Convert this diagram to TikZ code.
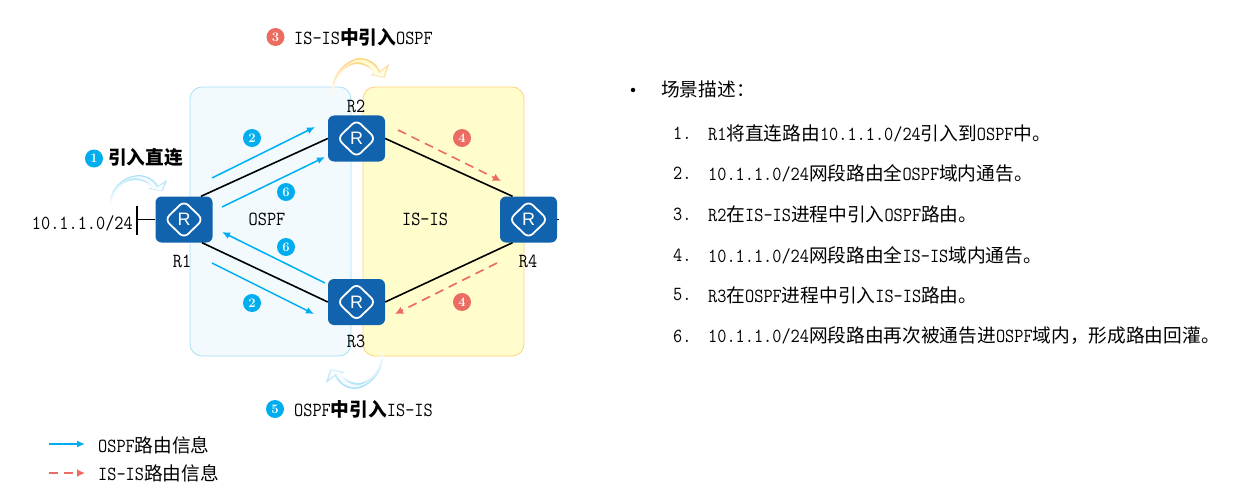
\documentclass[tikz,border=0pt]{standalone}
\usepackage{fontspec}
\newfontfamily\cjk[Scale=0.935]{Noto Sans CJK SC}
\newfontfamily\latin[FakeStretch=0.89]{Latin Modern Mono}
\newfontfamily\routerfont{Liberation Sans}
\definecolor{rtblue}{HTML}{1063AC}
\definecolor{osblue}{HTML}{00AEEF}
\definecolor{isred}{HTML}{EB6D62}
\definecolor{osfill}{HTML}{F2FAFE}
\definecolor{osedge}{HTML}{A8E0F8}
\definecolor{isfill}{HTML}{FFFDCC}
\definecolor{isedge}{HTML}{FFD27F}
\usetikzlibrary{arrows.meta}
\newcommand{\txtfont}{\latin\fontsize{20}{22}\selectfont}
\newcommand{\zh}[1]{{\cjk #1}}
\newcommand{\zhb}[1]{{\cjk\bfseries #1}}
\tikzset{
    area/.style 2 args={
        draw=#2, fill=#1, rounded corners=12pt, line width=0.8pt,
        minimum width=161pt, minimum height=269pt
    },
    router/.style={
        fill=rtblue, rounded corners=6pt, minimum width=57pt, minimum height=46pt,
        text=white, font=\routerfont\fontsize{18}{18}\selectfont,
        path picture={
            \draw[white, line width=1.8pt, line join=miter]
                ([xshift=-19pt]path picture bounding box.center)
                -- ([yshift=18.5pt]path picture bounding box.center)
                -- ([xshift=19pt]path picture bounding box.center)
                -- ([yshift=-18.5pt]path picture bounding box.center) -- cycle;
        }
    },
    link/.style={draw=black, line width=1.6pt},
    osarrow/.style={-{Latex[length=8pt,width=7pt]}, draw=osblue, line width=1.5pt},
    isarrow/.style={-{Latex[length=8pt,width=8pt]}, draw=isred, line width=1.6pt,
        dash pattern=on 9pt off 6pt},
    badge/.style={
        circle, fill=#1, minimum size=18pt, text=white,
        font=\rmfamily\bfseries\fontsize{13}{13}\selectfont
    },
    badge/.default=osblue,
    pics/swoosh/.style n args={3}{
        code={
            \shade[bottom color=white, middle color=#1, top color=#1, shading angle=#3]
                (0,0) .. controls (-3,-22) and (14,-38) .. (28,-39)
                .. controls (38,-39) and (46,-32) .. (48,-26)
                -- (57,-33) -- (53,-19) -- (38,-22) -- (42,-24)
                .. controls (38,-31) and (30,-33) .. (24,-33)
                .. controls (12,-32) and (3,-20) .. (0,0) -- cycle;
            \shade[bottom color=white, middle color=#2, top color=#2, shading angle=#3]
                (1.5,-8) .. controls (3,-22) and (15,-36.5) .. (28,-37.5)
                .. controls (37,-37.5) and (44,-31) .. (47,-23.5)
                -- (54.5,-29.5) -- (51.5,-20.5) -- (42,-22.5)
                .. controls (39,-33) and (30,-35) .. (24,-35)
                .. controls (14,-34) and (5,-22) .. (1.5,-8) -- cycle;
        }
    }
}
\begin{document}
\begin{tikzpicture}[x=1pt, y=-1pt, every node/.style={inner sep=0pt, font=\txtfont}]
    \useasboundingbox (0,0) rectangle (1236,500);
    % areas
    \node[area={osfill}{osedge}] (ospfarea) at (270.5,221.5) {};
    \node[area={isfill}{isedge}] (isisarea) at (443.5,221.5) {};
    \node (ospflabel) at (267,219) {OSPF};
    \node (isislabel) at (425,219) {IS-IS};
    % routers
    \node[router] (R1) at (184,219.5) {R};
    \node[router] (R2) at (356.5,138.5) {R};
    \node[router] (R3) at (356.5,302) {R};
    \node[router] (R4) at (528.5,219.5) {R};
    \node (R1label) at (182,261) {R1};
    \node (R2label) at (356,106) {R2};
    \node (R3label) at (356,341) {R3};
    \node (R4label) at (528,261) {R4};
    % links
    \coordinate (stub1) at (137,219.5);
    \coordinate (bar1a) at (137,206);
    \coordinate (bar1b) at (137,235);
    \coordinate (stub4) at (559,219.5);
    \draw[link] ([xshift=17pt]R1.north) -- (R2.west);
    \draw[link] ([xshift=18pt]R1.south) -- (R3.west);
    \draw[link] (R2.east) -- ([xshift=-16pt]R4.north);
    \draw[link] (R3.east) -- ([xshift=-16pt]R4.south);
    \draw[link] (R1) -- (stub1);
    \draw[link] (bar1a) -- (bar1b);
    \draw[link] (R4) -- (stub4);
    \node[anchor=east] (net) at (133,223) {10.1.1.0/24};
    % route arrows
    \coordinate (osa1) at (212,178);
    \coordinate (osa2) at (315,127);
    \coordinate (osb1) at (222,207);
    \coordinate (osb2) at (325,157);
    \coordinate (osc1) at (325,283);
    \coordinate (osc2) at (222,232);
    \coordinate (osd1) at (212,263);
    \coordinate (osd2) at (314,314);
    \coordinate (isa1) at (398,130);
    \coordinate (isa2) at (501,181);
    \coordinate (isb1) at (497,263);
    \coordinate (isb2) at (395,314);
    \draw[osarrow] (osa1) -- (osa2);
    \draw[osarrow] (osb1) -- (osb2);
    \draw[osarrow] (osc1) -- (osc2);
    \draw[osarrow] (osd1) -- (osd2);
    \draw[isarrow] (isa1) -- (isa2);
    \draw[isarrow] (isb1) -- (isb2);
    % badges
    \node[badge] (b1) at (94,158.5) {1};
    \node[badge] (b2a) at (252,138) {2};
    \node[badge] (b2b) at (252,303) {2};
    \node[badge=isred] (b3) at (275.5,37) {3};
    \node[badge=isred] (b4a) at (462,138) {4};
    \node[badge=isred] (b4b) at (462,302) {4};
    \node[badge] (b5) at (275,409) {5};
    \node[badge] (b6a) at (286,192) {6};
    \node[badge] (b6b) at (286,247) {6};
    \node[anchor=west] (step1) at (108,157) {\zhb{引入直连}};
    \node[anchor=west] (step3) at (294,37) {IS-IS\zhb{中引入}OSPF};
    \node[anchor=west] (step5) at (294,409.5) {OSPF\zhb{中引入}IS-IS};
    % swooshes
    \pic[yscale=.82] at (110,207) {swoosh={osedge}{osfill}{0}};
    \pic at (332,97) {swoosh={isedge}{isfill}{0}};
    \pic[rotate=180] at (383,350) {swoosh={osedge}{osfill}{180}};
    % legend
    \coordinate (lega1) at (49,444);
    \coordinate (lega2) at (85,444);
    \coordinate (legb1) at (49,473);
    \coordinate (legb2) at (85,473);
    \draw[osarrow] (lega1) -- (lega2);
    \draw[isarrow] (legb1) -- (legb2);
    \node[anchor=west] (lega) at (98,445) {OSPF\zh{路由信息}};
    \node[anchor=west] (legb) at (98,473) {IS-IS\zh{路由信息}};
    % description
    \node[circle, fill=black, minimum size=4.5pt] (dot) at (633,90) {};
    \node[anchor=west] (head) at (661,89) {\zh{场景描述：}};
    \node[anchor=west] (n1) at (673,133) {1.};
    \node[anchor=west] (t1) at (708,133) {R1\zh{将直连路由}10.1.1.0/24\zh{引入到}OSPF\zh{中。}};
    \node[anchor=west] (n2) at (673,173) {2.};
    \node[anchor=west] (t2) at (708,173) {10.1.1.0/24\zh{网段路由全}OSPF\zh{域内通告。}};
    \node[anchor=west] (n3) at (673,214) {3.};
    \node[anchor=west] (t3) at (708,214) {R2\zh{在}IS-IS\zh{进程中引入}OSPF\zh{路由。}};
    \node[anchor=west] (n4) at (673,255) {4.};
    \node[anchor=west] (t4) at (708,255) {10.1.1.0/24\zh{网段路由全}IS-IS\zh{域内通告。}};
    \node[anchor=west] (n5) at (673,295) {5.};
    \node[anchor=west] (t5) at (708,295) {R3\zh{在}OSPF\zh{进程中引入}IS-IS\zh{路由。}};
    \node[anchor=west] (n6) at (673,336) {6.};
    \node[anchor=west] (t6) at (708,336) {10.1.1.0/24\zh{网段路由再次被通告进}OSPF\zh{域内，形成路由回灌。}};
\end{tikzpicture}
\end{document}
